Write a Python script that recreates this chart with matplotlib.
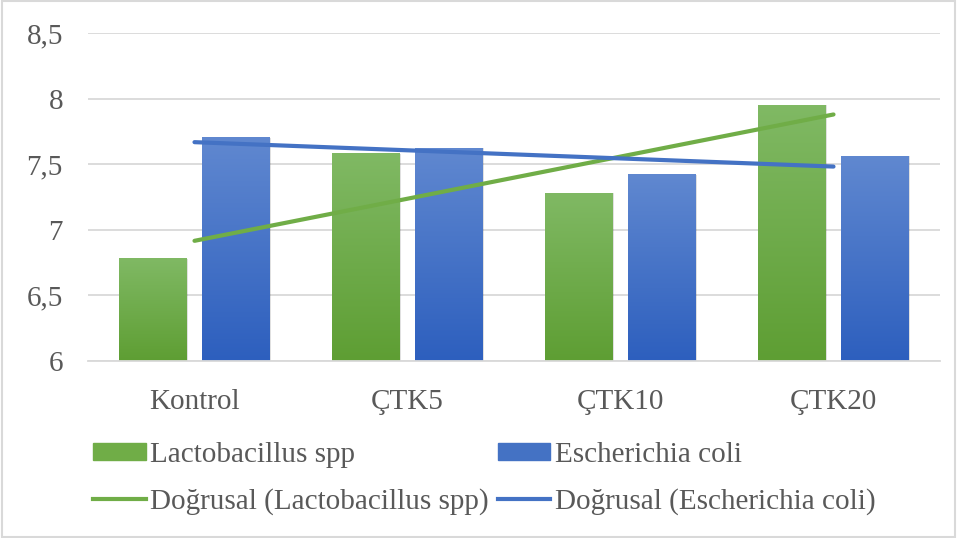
import numpy as np
import matplotlib.pyplot as plt
from matplotlib.patches import Rectangle
from matplotlib.lines import Line2D
from matplotlib.ticker import FuncFormatter
from matplotlib.colors import LinearSegmentedColormap

plt.rcParams['font.family'] = ['Liberation Serif', 'DejaVu Serif']

categories = ['Kontrol', 'ÇTK5', 'ÇTK10', 'ÇTK20']
lacto = [6.78, 7.58, 7.28, 7.95]
ecoli = [7.70, 7.62, 7.42, 7.56]
yticks = [6, 6.5, 7, 7.5, 8, 8.5]

green = '#70AD47'
blue = '#4472C4'
green_grad = LinearSegmentedColormap.from_list('g', ['#5e9e33', '#80b964'])
blue_grad = LinearSegmentedColormap.from_list('b', ['#2d5fbe', '#6088d0'])

fig = plt.figure(figsize=(9.57, 5.38), dpi=100)
ax = fig.add_axes([88/957, 1-361/538, (940-88)/957, (361-33)/538])

x = np.arange(len(categories))
w = 0.315
off = 0.195

grad = np.linspace(0, 1, 256).reshape(-1, 1)
for xs, vals, cmap in [(x - off, lacto, green_grad), (x + off, ecoli, blue_grad)]:
    bars = ax.bar(xs, np.array(vals) - 6, w, bottom=6, color='none', zorder=2)
    for b in bars:
        x0, y0 = b.get_x(), b.get_y()
        x1, y1 = x0 + b.get_width(), y0 + b.get_height()
        # soft shadow
        ax.add_patch(Rectangle((x0 + 0.008, y0), b.get_width(), b.get_height(),
                               color='#000000', alpha=0.12, zorder=1.9, lw=0))
        ax.imshow(grad, extent=[x0, x1, y0, y1], origin='lower', cmap=cmap,
                  aspect='auto', zorder=2)

# linear trendlines
for vals, c in [(lacto, green), (ecoli, blue)]:
    k, m = np.polyfit(x + 1, vals, 1)
    ax.plot(x, k * (x + 1) + m, color=c, lw=3, solid_capstyle='round', zorder=3)

ax.set_xlim(-0.5, 3.5)
ax.set_ylim(6, 8.5)
ax.set_yticks(yticks)
ax.yaxis.set_major_formatter(FuncFormatter(lambda v, p: ('%g' % v).replace('.', ',')))
ax.set_xticks(x)
ax.set_xticklabels(categories)
ax.tick_params(length=0, labelsize=21, colors='#595959')
ax.tick_params(axis='y', pad=18)
ax.tick_params(axis='x', pad=20)
ax.grid(axis='y', color='#d9d9d9', lw=1.3, zorder=0)
for s in ['top', 'right', 'left']:
    ax.spines[s].set_visible(False)
ax.spines['bottom'].set_color('#d9d9d9')
ax.spines['bottom'].set_linewidth(1.3)

handles = [Rectangle((0, 0), 1, 1, color=green), Line2D([], [], color=green, lw=3),
           Rectangle((0, 0), 1, 1, color=blue), Line2D([], [], color=blue, lw=3)]
labels = ['Lactobacillus spp', 'Doğrusal (Lactobacillus spp)',
          'Escherichia coli', 'Doğrusal (Escherichia coli)']
fig.legend(handles, labels, ncol=2, loc='upper left', bbox_to_anchor=(93/957, 1-442/538),
           frameon=False, fontsize=21, labelcolor='#595959', handlelength=1.8,
           handleheight=0.55, handletextpad=0.17, columnspacing=0.3, labelspacing=0.7,
           borderpad=0, borderaxespad=0)

fig.add_artist(Rectangle((0.002, 0.002), 0.996, 0.996, transform=fig.transFigure,
                         fill=False, ec='#d9d9d9', lw=1.5))

fig.savefig('out.png', dpi=100)
